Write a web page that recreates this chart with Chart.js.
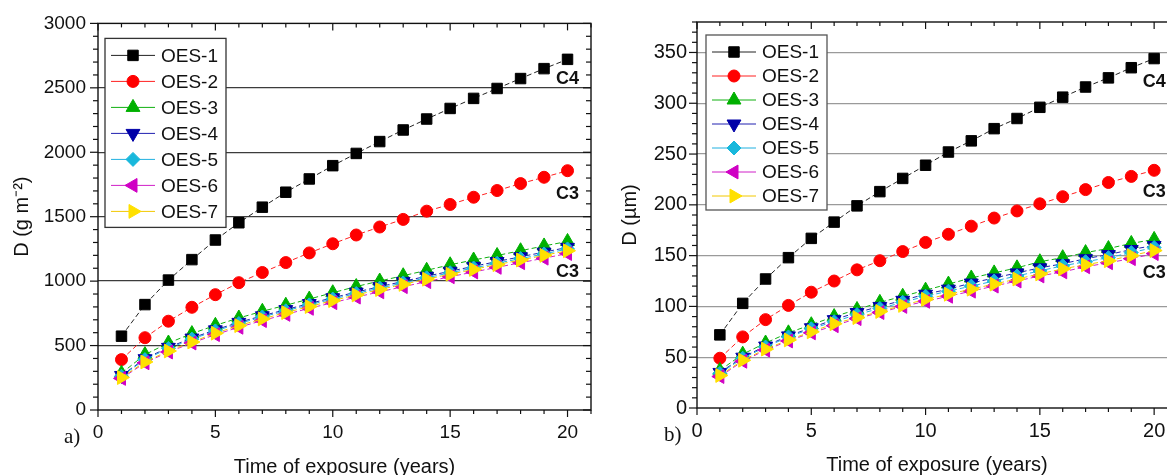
<!DOCTYPE html>
<html>
<head>
<meta charset="utf-8">
<title>OES corrosion</title>
<script src="https://cdn.jsdelivr.net/npm/chart.js@4/dist/chart.umd.min.js"></script>
<style>
  html, body { margin: 0; padding: 0; background: #fff; overflow: hidden; width: 1167px; height: 475px; }
  .panel { position: absolute; top: 0; }
  #panel-a { left: 0; }
  #panel-b { left: 600px; }
  .tag { position: absolute; font-family: "Liberation Serif", "DejaVu Serif", serif; font-size: 21px; color: #111; }
</style>
</head>
<body>
<div class="panel" id="panel-a"><canvas id="mass-chart" width="600" height="480"></canvas></div>
<div class="panel" id="panel-b"><canvas id="thick-chart" width="600" height="480"></canvas></div>
<div class="tag" style="left:64px;top:424px">a)</div>
<div class="tag" style="left:664px;top:422px">b)</div>
<script>
const years = [1, 2, 3, 4, 5, 6, 7, 8, 9, 10, 11, 12, 13, 14, 15, 16, 17, 18, 19, 20];
const seriesNames = ['OES-1', 'OES-2', 'OES-3', 'OES-4', 'OES-5', 'OES-6', 'OES-7'];

// mass loss, g m-2
const oes1Mass = [573, 818, 1008, 1167, 1319, 1453, 1574, 1690, 1793, 1896, 1991, 2083, 2173, 2258, 2340, 2418, 2495, 2572, 2649, 2721];
const oes2Mass = [391, 561, 689, 797, 895, 988, 1067, 1144, 1219, 1290, 1358, 1420, 1479, 1543, 1595, 1651, 1703, 1757, 1806, 1857];
const oes3Mass = [285, 430, 520, 593, 657, 714, 766, 813, 861, 910, 958, 1001, 1042, 1084, 1127, 1164, 1199, 1236, 1273, 1308];
const oes4Mass = [268, 398, 486, 558, 622, 680, 731, 779, 826, 871, 915, 957, 998, 1038, 1077, 1115, 1152, 1189, 1225, 1262];
const oes5Mass = [262, 391, 478, 550, 614, 671, 722, 770, 816, 861, 904, 946, 986, 1026, 1065, 1102, 1139, 1175, 1211, 1250];
const oes6Mass = [245, 366, 450, 520, 585, 642, 694, 742, 789, 833, 876, 917, 957, 996, 1034, 1071, 1107, 1143, 1178, 1214];
const oes7Mass = [252, 373, 458, 528, 596, 655, 707, 756, 803, 849, 893, 935, 975, 1015, 1054, 1091, 1128, 1164, 1200, 1236];

// corrosion depth, um
const oes1Depth = [72, 103, 127, 148, 167, 183, 199, 213, 226, 239, 252, 263, 275, 285, 296, 306, 316, 325, 335, 344];
const oes2Depth = [49, 70, 87, 101, 114, 125, 136, 145, 154, 163, 171, 179, 187, 194, 201, 208, 215, 222, 228, 234];
const oes3Depth = [37, 53, 64, 74, 82, 90, 97, 104, 110, 116, 122, 128, 133, 138, 144, 148, 153, 157, 162, 166];
const oes4Depth = [35, 50, 61, 71, 79, 87, 94, 100, 106, 112, 117, 123, 128, 133, 138, 142, 147, 151, 156, 160];
const oes5Depth = [34, 49, 60, 70, 78, 85, 92, 98, 104, 110, 115, 120, 125, 130, 135, 140, 144, 148, 153, 158];
const oes6Depth = [31, 46, 57, 66, 74, 81, 88, 94, 100, 105, 110, 115, 120, 125, 130, 134, 139, 143, 147, 152];
const oes7Depth = [32, 47, 58, 67, 75, 83, 89, 95, 101, 107, 112, 117, 122, 127, 132, 137, 141, 145, 150, 155];

// corrosivity class tags, placed at year 20
const classTags = ['C4', 'C3', 'C3'];
const massTagAt = [2569, 1677, 1067];
const depthTagAt = [321, 213, 133];

const colors = ['#000000', '#ff0000', '#00b000', '#0000a8', '#18b8dc', '#d000c4', '#ffe000'];
const lineColors = ['#222222', '#ff2020', '#10b010', '#2020b0', '#20b0e0', '#d020c8', '#f2c800'];
const markers = [
    { style: 'rect', rot: 0, r: 7.4 },
    { style: 'circle', rot: 0, r: 6 },
    { style: 'triangle', rot: 0, r: 8 },
    { style: 'triangle', rot: 180, r: 8 },
    { style: 'rectRot', rot: 0, r: 7 },
    { style: 'triangle', rot: -90, r: 8 },
    { style: 'triangle', rot: 90, r: 8 }
];
const sansFont = '"Liberation Sans", Arial, sans-serif';

Chart.defaults.font.family = sansFont;
Chart.defaults.color = '#111';

const makeDatasets = (series) => series.map((values, i) => ({
    label: seriesNames[i],
    data: years.map((t, k) => ({ x: t, y: values[k] })),
    borderColor: lineColors[i],
    borderWidth: 1,
    borderDash: [5, 3],
    backgroundColor: colors[i],
    pointBackgroundColor: colors[i],
    pointBorderColor: colors[i],
    pointBorderWidth: 1,
    pointStyle: markers[i].style,
    pointRotation: markers[i].rot,
    pointRadius: markers[i].r,
    order: seriesNames.length - i
}));

// box frame plus Origin-style ticks: outward on bottom/left, inward on top/right
const frameTicks = {
    id: 'frameTicks',
    afterDraw(chart, args, opts) {
        const { ctx, chartArea: a, scales: { x, y } } = chart;
        const line = (x1, y1, x2, y2) => { ctx.beginPath(); ctx.moveTo(x1, y1); ctx.lineTo(x2, y2); ctx.stroke(); };
        ctx.save();
        ctx.strokeStyle = '#111';
        ctx.lineWidth = 1.4;
        ctx.strokeRect(a.left, a.top, a.right - a.left, a.bottom - a.top);
        ctx.lineWidth = 1.2;
        const nx = Math.round((x.max - x.min) / opts.xMinor);
        for (let k = 0; k <= nx; k++) {
            const v = x.min + k * opts.xMinor;
            const px = x.getPixelForValue(v);
            const len = v % opts.xMajor === 0 ? 7 : 4;
            line(px, a.bottom, px, a.bottom + len);
            line(px, a.top, px, a.top + len);
        }
        const ny = Math.round((y.max - y.min) / opts.yMinor);
        for (let k = 0; k <= ny; k++) {
            const v = y.min + k * opts.yMinor;
            const py = y.getPixelForValue(v);
            const len = v % opts.yMajor === 0 ? 8 : 5;
            line(a.left - len, py, a.left, py);
            line(a.right - len, py, a.right, py);
        }
        ctx.restore();
    }
};

const boxLegend = {
    id: 'boxLegend',
    afterDraw(chart, args, opts) {
        const { ctx, chartArea: a } = chart;
        const sets = chart.data.datasets;
        const left = a.left + opts.dx;
        const top = a.top + opts.dy;
        const h = opts.first + opts.row * (sets.length - 1) + opts.last;
        ctx.save();
        ctx.fillStyle = '#fff';
        ctx.fillRect(left, top, opts.width, h);
        ctx.strokeStyle = opts.border;
        ctx.lineWidth = 1.3;
        ctx.strokeRect(left, top, opts.width, h);
        ctx.font = '19px ' + sansFont;
        ctx.textBaseline = 'middle';
        sets.forEach((ds, i) => {
            const cy = top + opts.first + i * opts.row;
            ctx.strokeStyle = ds.borderColor;
            ctx.lineWidth = 1;
            ctx.beginPath();
            ctx.moveTo(left + 6, cy);
            ctx.lineTo(left + 50, cy);
            ctx.stroke();
            ctx.fillStyle = ds.pointBackgroundColor;
            ctx.strokeStyle = ds.pointBorderColor;
            Chart.helpers.drawPoint(ctx, {
                pointStyle: ds.pointStyle,
                rotation: ds.pointRotation,
                radius: ds.pointRadius,
                borderWidth: 1
            }, left + 28, cy);
            ctx.fillStyle = '#111';
            ctx.fillText(ds.label, left + 56, cy + 1);
        });
        ctx.restore();
    }
};

const classLabels = {
    id: 'classLabels',
    afterDatasetsDraw(chart, args, opts) {
        const { ctx, scales: { x, y } } = chart;
        ctx.save();
        ctx.font = 'bold 18px ' + sansFont;
        ctx.fillStyle = '#111';
        ctx.textAlign = 'center';
        ctx.textBaseline = 'middle';
        opts.text.forEach((t, i) => ctx.fillText(t, x.getPixelForValue(opts.year), y.getPixelForValue(opts.values[i])));
        ctx.restore();
    }
};

const makeChart = (canvasId, cfg) => new Chart(document.getElementById(canvasId), {
    type: 'line',
    data: { datasets: makeDatasets(cfg.series) },
    plugins: [frameTicks, classLabels, boxLegend],
    options: {
        responsive: false,
        animation: false,
        events: [],
        layout: { padding: { left: 0, top: cfg.top, right: cfg.right, bottom: 0 } },
        scales: {
            x: {
                type: 'linear',
                min: 0,
                max: 21,
                afterFit: s => { s.height = cfg.xHeight; },
                grid: { display: false, drawTicks: false },
                border: { display: false },
                ticks: { stepSize: 5, includeBounds: false, padding: 11, maxRotation: 0, font: { size: cfg.tickSize } },
                title: { display: true, text: 'Time of exposure (years)', font: { size: 20 }, padding: { top: 0, bottom: cfg.xTitlePad } }
            },
            y: {
                type: 'linear',
                min: 0,
                max: cfg.yMax,
                afterFit: s => { s.width = cfg.yWidth; },
                grid: {
                    drawTicks: false,
                    lineWidth: 1.3,
                    color: c => (c.tick.value > 0 && c.tick.value < cfg.yMax) ? cfg.gridColor : 'rgba(0,0,0,0)'
                },
                border: { display: false },
                ticks: {
                    stepSize: cfg.yMajor,
                    includeBounds: false,
                    padding: cfg.yPad,
                    format: { useGrouping: false },
                    font: { size: cfg.tickSize }
                },
                title: { display: true, text: cfg.yTitle, font: { size: 20 }, padding: { top: cfg.yTitlePad, bottom: 0 } }
            }
        },
        plugins: {
            legend: { display: false },
            tooltip: { enabled: false },
            frameTicks: { xMinor: 1, xMajor: 5, yMinor: cfg.yMajor / 5, yMajor: cfg.yMajor },
            boxLegend: cfg.legend,
            classLabels: { text: classTags, year: 20, values: cfg.tags }
        }
    }
});

makeChart('mass-chart', {
    series: [oes1Mass, oes2Mass, oes3Mass, oes4Mass, oes5Mass, oes6Mass, oes7Mass],
    yMax: 3000,
    yMajor: 500,
    yTitle: 'D (g m⁻²)',
    yWidth: 98,
    yPad: 12,
    yTitlePad: 10,
    top: 21,
    right: 6,
    xHeight: 70,
    xTitlePad: 1,
    tickSize: 19,
    gridColor: '#3c3c3c',
    tags: massTagAt,
    legend: { dx: 7, dy: 15, width: 121, first: 17, row: 26, last: 16, border: '#333' }
});

makeChart('thick-chart', {
    series: [oes1Depth, oes2Depth, oes3Depth, oes4Depth, oes5Depth, oes6Depth, oes7Depth],
    yMax: 380,
    yMajor: 50,
    yTitle: 'D (µm)',
    yWidth: 97,
    yPad: 10,
    yTitlePad: 18,
    top: 20,
    right: 23,
    xHeight: 72,
    xTitlePad: 3,
    tickSize: 20,
    gridColor: '#9a9a9a',
    tags: depthTagAt,
    legend: { dx: 9, dy: 13, width: 121, first: 17, row: 24, last: 14, border: '#555' }
});
</script>
</body>
</html>
